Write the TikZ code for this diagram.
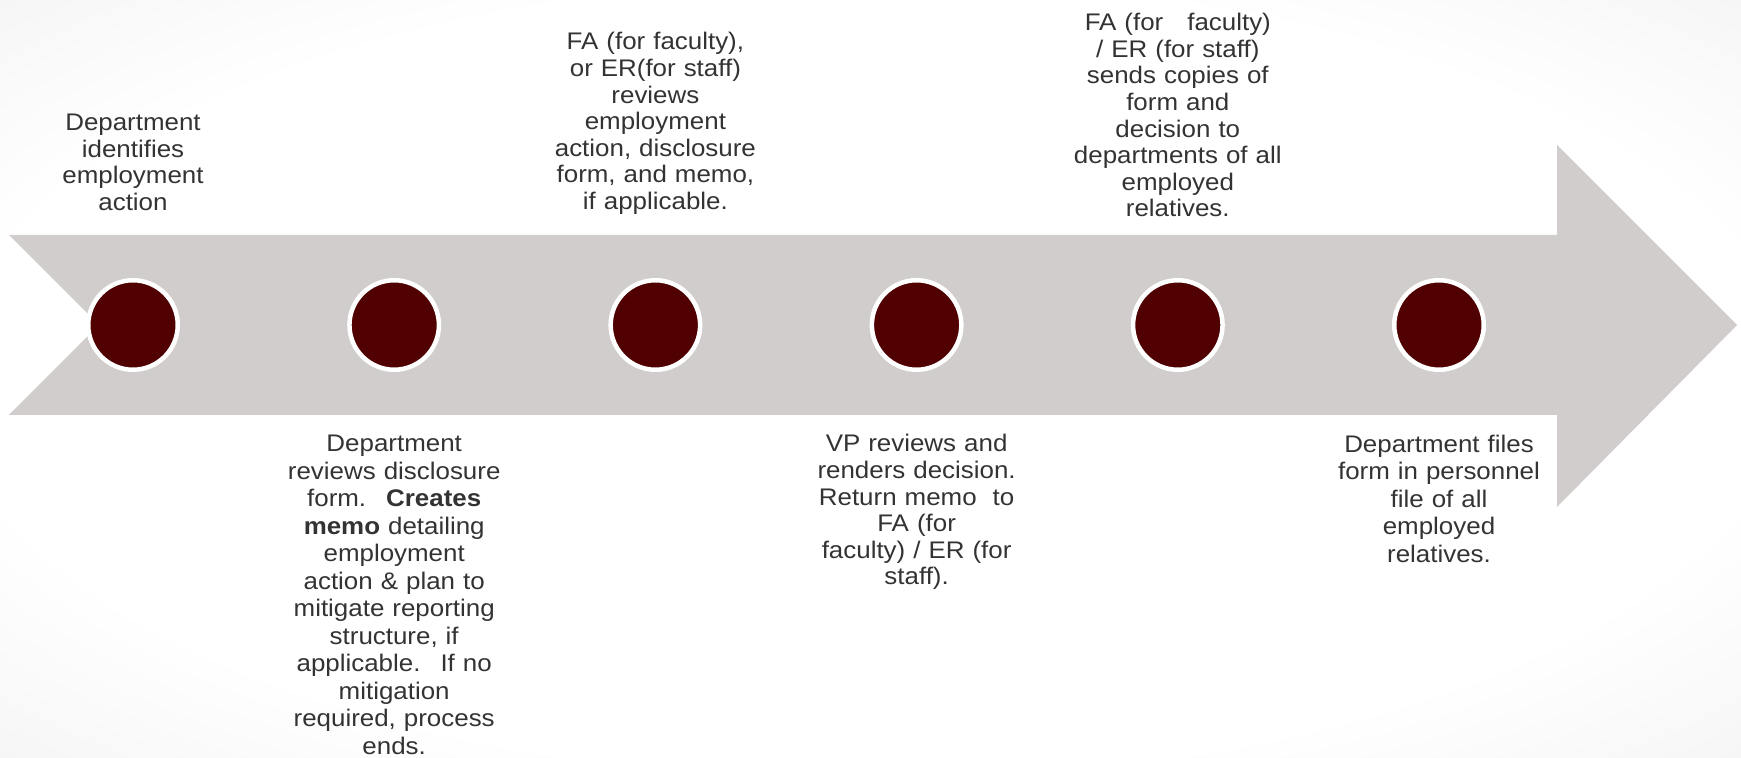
\documentclass[tikz,border=0pt]{standalone}
\usepackage{fontspec}
\setmainfont{Liberation Sans}[FakeStretch=1.08]
\usetikzlibrary{positioning}
\definecolor{aggiemaroon}{HTML}{500000}
\definecolor{bandgray}{HTML}{D0CDCC}
\definecolor{textgray}{HTML}{333333}
\pgfdeclareradialshading{slidebg}{\pgfpoint{0bp}{0bp}}{%
  color(0bp)=(white); color(26bp)=(white); color(50bp)=(gray!18);
  color(71bp)=(gray!26)}

\begin{document}
\begin{tikzpicture}[
  x=1pt, y=1pt,
  node distance=167.2pt,
  stepdot/.style={circle, fill=aggiemaroon, draw=white, line width=4.5pt,
                  minimum size=89.5pt, inner sep=0pt},
  note/.style={text=textgray, align=center, text width=240pt, inner sep=0pt,
               font=\fontsize{24}{26.6}\selectfont},
  loosenote/.style={note, font=\fontsize{24}{27.5}\selectfont},
]
  % Canvas
  \useasboundingbox (0,0) rectangle (1741,758);
  \shade[shading=slidebg] (0,0) rectangle (1741,758);
  % Timeline arrow
  \fill[bandgray] (9,523) -- (1557,523) -- (1557,613) -- (1737,433)
    -- (1557,251) -- (1557,343) -- (9,343) -- (99,433) -- cycle;
  % Steps
  \node[stepdot] (s1) at (133,433) {};
  \node[stepdot, right=of s1] (s2) {};
  \node[stepdot, right=of s2] (s3) {};
  \node[stepdot, right=of s3] (s4) {};
  \node[stepdot, right=of s4] (s5) {};
  \node[stepdot, right=of s5] (s6) {};
  % Texts above the arrow
  \node[note, above=194.3pt of s1.center, anchor=base] (t1)
    {Department\\identifies\\employment\\action};
  \node[note, above=275pt of s3.center, anchor=base] (t3)
    {FA (for faculty),\\or ER(for staff)\\reviews\\employment\\action, disclosure\\form, and memo,\\if applicable.};
  \node[note, above=294.3pt of s5.center, anchor=base] (t5)
    {FA (for~~ faculty)\\/ ER (for staff)\\sends copies of\\form and\\decision to\\departments of all\\employed\\relatives.};
  % Texts below the arrow
  \node[loosenote, below=127pt of s2.center, anchor=base] (t2)
    {Department\\reviews disclosure\\form.~ \textbf{Creates}\\\textbf{memo} detailing\\employment\\action \& plan to\\mitigate reporting\\structure, if\\applicable.~ If no\\mitigation\\required, process\\ends.};
  \node[note, below=127pt of s4.center, anchor=base] (t4)
    {VP reviews and\\renders decision.\\Return memo~ to\\FA (for\\faculty) / ER (for\\staff).};
  \node[loosenote, below=127.3pt of s6.center, anchor=base] (t6)
    {Department files\\form in personnel\\file of all\\employed\\relatives.};
\end{tikzpicture}
\end{document}
